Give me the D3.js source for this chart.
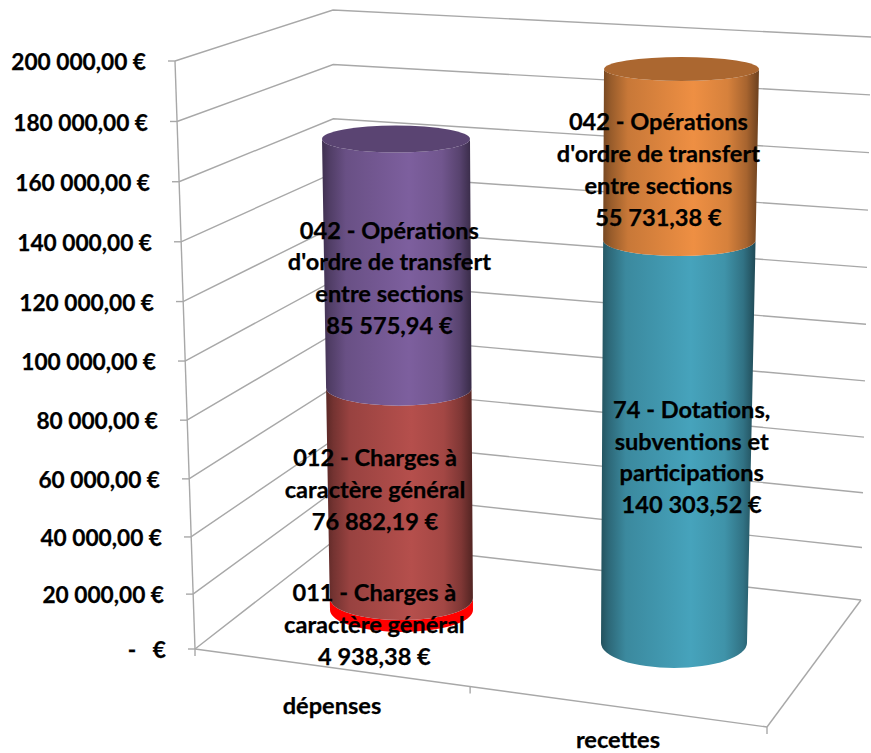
<!DOCTYPE html>
<html>
<head>
<meta charset="utf-8">
<script src="https://cdn.jsdelivr.net/npm/d3@7"></script>
<style>
  html, body { margin: 0; background: #fff; }
  text { font-family: Lato, "Noto Sans", sans-serif; font-weight: 700; fill: #000; stroke: #000; stroke-width: 0.25; }
</style>
</head>
<body>
<svg id="mainsvg" width="871" height="753"></svg>
<script>
const categories = ['dépenses', 'recettes'];
const tickValues = [0, 20000, 40000, 60000, 80000, 100000, 120000, 140000, 160000, 180000, 200000];

const depensesNames = [
  ['011 - Charges à', 'caractère général'],
  ['012 - Charges à', 'caractère général'],
  ['042 - Opérations', "d'ordre de transfert", 'entre sections'],
];
const depensesValues = [4938.38, 76882.19, 85575.94];
const depensesColors = ['#ff0000', '#b54f4c', '#7d5f9e'];

const recettesNames = [
  ['74 - Dotations,', 'subventions et', 'participations'],
  ['042 - Opérations', "d'ordre de transfert", 'entre sections'],
];
const recettesValues = [140303.52, 55731.38];
const recettesColors = ['#46a3bc', '#ee8f43'];

const svg = d3.select('#mainsvg');
const defs = svg.append('defs');
const tickFont = 22.7;
const labelFont = 23.6;

// les trois aretes verticales du "cube" 3D, du bas (0) vers le haut (200 000)
const edge = (x0, x1, y0, y1, exp) => ({
  x: d3.scaleLinear().domain([0, 200000]).range([x0, x1]),
  y: d3.scalePow().exponent(exp).domain([0, 200000]).range([y0, y1]),
});
const front = edge(195, 175, 649, 61, 1.03);
const back = edge(335, 333, 540, 10, 1.03);
const right = edge(861, 871, 600, 37, 1.03);

const locale = d3.formatLocale({ decimal: ',', thousands: '\u00a0', grouping: [3], currency: ['', '\u00a0€'] });
const euro = locale.format('$,.2f');
const tickLabel = v => (v === 0 ? '-\u00a0\u00a0\u00a0€' : euro(v));

const gridColor = '#a8a8a8';

// grille : mur gauche + mur du fond
const grid = svg.append('g').attr('fill', 'none').attr('stroke', gridColor).attr('stroke-width', 1.4);
grid.selectAll('polyline')
  .data(tickValues)
  .join('polyline')
  .attr('points', v => [
    [front.x(v), front.y(v)],
    [back.x(v), back.y(v)],
    [right.x(v), right.y(v)],
  ].join(' '));

// axe vertical : on part de axisLeft puis on decale chaque graduation le long de l'arete
const yAxis = d3.axisLeft(front.y)
  .tickValues(tickValues)
  .tickFormat(tickLabel)
  .tickSize(7)
  .tickPadding(22);
const yAxisG = svg.append('g').call(yAxis);
yAxisG.select('.domain').remove();
yAxisG.selectAll('.tick')
  .attr('transform', v => `translate(${front.x(v)},${front.y(v)})`);
yAxisG.selectAll('.tick line').attr('stroke', gridColor).attr('stroke-width', 1.4);
yAxisG.selectAll('.tick text').attr('font-size', tickFont).attr('dy', '0.4em');
yAxisG.attr('font-family', null).attr('font-size', null);
svg.append('line')
  .attr('x1', front.x(0)).attr('y1', front.y(0))
  .attr('x2', front.x(200000)).attr('y2', front.y(200000))
  .attr('stroke', gridColor).attr('stroke-width', 1.4);

// sol et axe des categories (perspective : la 2e graduation n'est pas au milieu)
const floorX = d3.scalePow().exponent(1.056).domain([0, categories.length]).range([195, 767]);
const floorY = d3.scaleLinear().domain([195, 767]).range([649, 727]);
const floor = svg.append('g').attr('fill', 'none').attr('stroke', gridColor).attr('stroke-width', 1.4);
floor.append('line')
  .attr('x1', floorX(0)).attr('y1', floorY(floorX(0)))
  .attr('x2', floorX(2)).attr('y2', floorY(floorX(2)));
floor.append('line')
  .attr('x1', floorX(2)).attr('y1', floorY(floorX(2)))
  .attr('x2', right.x(0)).attr('y2', right.y(0));
floor.selectAll('.xtick')
  .data([0, 1, 2])
  .join('line')
  .attr('class', 'xtick')
  .attr('x1', floorX).attr('x2', floorX)
  .attr('y1', d => floorY(floorX(d))).attr('y2', d => floorY(floorX(d)) + 7);

svg.append('g').selectAll('text')
  .data(categories)
  .join('text')
  .attr('font-size', labelFont)
  .attr('text-anchor', 'middle')
  .attr('x', (d, i) => [332, 618][i])
  .attr('y', (d, i) => [714, 748][i])
  .text(d => d);

function gradient(id, color) {
  const dark = f => d3.interpolateRgb(color, '#000')(f);
  const g = defs.append('linearGradient').attr('id', id);
  [[0, 0.5], [0.05, 0.36], [0.16, 0.16], [0.58, 0], [0.8, 0.1], [0.92, 0.3], [1, 0.55]].forEach(s => {
    g.append('stop').attr('offset', s[0]).attr('stop-color', dark(s[1]));
  });
}

// un cylindre empile : geom donne le disque du bas et celui du haut a l'ecran
function cylinder(id, values, colors, geom, plainFirst) {
  const total = d3.sum(values);
  const y = d3.scalePow().exponent(geom.exp).domain([0, total]).range([geom.y0, geom.y1]);
  const cx = d3.scaleLinear().domain([0, total]).range([geom.cx0, geom.cx1]);
  const rx = d3.scaleLinear().domain([0, total]).range([geom.rx0, geom.rx1]);
  const ry = d3.scaleLinear().domain([0, total]).range([geom.ry0, geom.ry1]);
  const stack = d3.cumsum(values);
  const g = svg.append('g');

  values.forEach((value, i) => {
    const low = i ? stack[i - 1] : 0;
    const high = stack[i];
    const gid = `${id}-${i}`;
    gradient(gid, colors[i]);
    g.append('path')
      .attr('d', `M${cx(high) - rx(high)},${y(high)}`
        + `A${rx(high)},${ry(high)} 0 0 0 ${cx(high) + rx(high)},${y(high)}`
        + `L${cx(low) + rx(low)},${y(low)}`
        + `A${rx(low)},${ry(low)} 0 0 1 ${cx(low) - rx(low)},${y(low)}Z`)
      .attr('fill', plainFirst && i === 0 ? colors[i] : `url(#${gid})`);
  });

  // couvercle
  g.append('ellipse')
    .attr('cx', cx(total)).attr('cy', y(total))
    .attr('rx', rx(total)).attr('ry', ry(total))
    .attr('fill', d3.interpolateRgb(colors[colors.length - 1], '#000')(0.28));

  return { y, cx, stack };
}

const col1 = cylinder('dep', depensesValues, depensesColors,
  { exp: 1.05, y0: 610, y1: 139, cx0: 401.5, cx1: 396, rx0: 71.5, rx1: 74, ry0: 22, ry1: 13.5 }, true);
const col2 = cylinder('rec', recettesValues, recettesColors,
  { exp: 1.06, y0: 643, y1: 69, cx0: 674, cx1: 681.5, rx0: 73, rx1: 77.5, ry0: 25, ry1: 12 }, false);

// etiquettes : nom sur plusieurs lignes puis montant, posees par rapport au milieu du segment
const lineHeight = 31.8;
function labels(col, names, values, shifts) {
  names.forEach((name, i) => {
    const mid = col.stack[i] - values[i] / 2;
    const lines = name.concat(euro(values[i]));
    const text = svg.append('text')
      .attr('font-size', labelFont)
      .attr('text-anchor', 'middle')
      .attr('y', col.y(mid) + shifts[i][1]);
    text.selectAll('tspan')
      .data(lines)
      .join('tspan')
      .attr('x', col.cx(mid) + shifts[i][0])
      .attr('dy', (d, j) => (j ? lineHeight : 0))
      .text(d => d);
  });
}
labels(col1, depensesNames, depensesValues, [[-27, -3], [-25, -30], [-8, -26]]);
labels(col2, recettesNames, recettesValues, [[15, -32], [-22, -25]]);
</script>
</body>
</html>
